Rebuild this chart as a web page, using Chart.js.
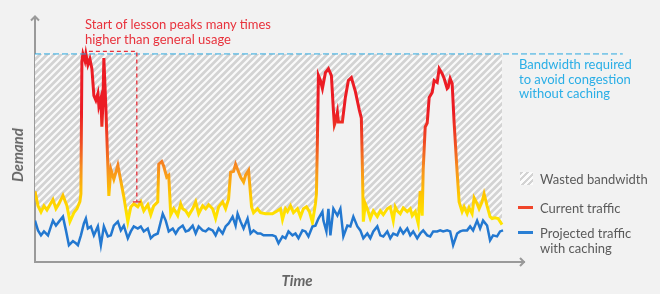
<!DOCTYPE html>
<html>
<head>
<meta charset="utf-8">
<script src="https://cdn.jsdelivr.net/npm/chart.js@4.4.1/dist/chart.umd.min.js"></script>
<style>
  body { margin: 0; background: #f2f2f2; font-family: "Lato", "Noto Sans", sans-serif; }
  #wrap { position: relative; width: 660px; height: 294px; overflow: hidden; }
  canvas { position: absolute; left: 0; top: 0; }
  .txt { position: absolute; white-space: nowrap; font-size: 13px; }
  .red { color: #e8323c; line-height: 15px; }
  .blue { color: #2aaee6; line-height: 14.7px; }
  .leg { color: #5a5a5a; line-height: 14.5px; }
  .axis { color: #666; font-weight: bold; font-style: italic; font-size: 15px; }
  .swatch { position: absolute; width: 13px; height: 13px;
    background: repeating-linear-gradient(135deg, #d3d3d3 0 2.4px, #fbfbfb 2.4px 4.6px); }
  .dash { position: absolute; width: 15px; height: 2.5px; }
</style>
</head>
<body>
<div id="wrap">
  <canvas id="demandChart" width="660" height="294"></canvas>
  <div class="txt red" style="left:85px; top:17px;">Start of lesson peaks many times<br>higher than general usage</div>
  <div class="txt blue" style="left:519px; top:57px;">Bandwidth required<br>to avoid congestion<br>without caching</div>
  <div class="swatch" style="left:520px; top:172px;"></div>
  <div class="txt leg" style="left:540px; top:172px;">Wasted bandwidth</div>
  <div class="dash" style="left:518px; top:206px; background:#f0452a;"></div>
  <div class="txt leg" style="left:540px; top:201px;">Current traffic</div>
  <div class="dash" style="left:518px; top:231px; background:#2a7fd4;"></div>
  <div class="txt leg" style="left:540px; top:226px;">Projected traffic<br>with caching</div>
  <div class="txt axis" style="left:17px; top:155px; transform: translate(-50%, -50%) rotate(-90deg);">Demand</div>
  <div class="txt axis" style="left:297px; top:280px; transform: translate(-50%, -50%);">Time</div>
</div>
<script>
// demand as % of the bandwidth needed without caching, time in arbitrary units
const bandwidthRequired = 100;

const currentTime = [0, 3, 6, 9, 12, 15, 18, 21, 24, 28, 32, 35, 39, 42, 45, 46, 47, 48, 50, 51, 53, 55, 57, 59,
  61, 63, 64, 66, 67, 68, 69, 71, 73, 74, 76, 79, 83, 86, 89, 93, 96, 99, 103, 106, 109, 113, 116, 119,
  123, 124, 127, 129, 132, 134, 136, 139, 143, 146, 148, 151, 154, 158, 161, 164, 168, 171, 174, 178,
  181, 184, 188, 191, 194, 196, 199, 201, 203, 206, 209, 211, 214, 217, 219, 223, 226, 231, 238, 243,
  246, 248, 251, 253, 256, 259, 263, 266, 269, 272, 275, 278, 281, 282, 283, 284, 286, 288, 291, 294,
  297, 299, 300, 301, 303, 304, 308, 311, 314, 317, 321, 325, 327, 328, 329, 331, 333, 336, 339, 343,
  346, 349, 353, 356, 359, 361, 363, 366, 369, 373, 376, 378, 381, 384, 386, 388, 389, 391, 393, 395,
  398, 400, 403, 405, 408, 410, 413, 414, 416, 418, 420, 423, 425, 428, 430, 433, 435, 438, 440, 443,
  445, 448, 450, 453, 456, 458, 461, 464, 468];
const currentTraffic = [34, 27, 24, 27, 25, 27.5, 30, 25.6, 28, 32, 27, 19.4, 23.7, 25.6, 29, 32.7, 96.7, 100, 96.7, 100, 94.8, 97.6, 92.9, 80,
  77.7, 81, 75, 78.7, 65, 75.4, 98, 74.4, 46, 31.8, 44.5, 39.8, 46.4, 38.9, 31.3, 19.4, 26.5, 28, 26.5, 28.9, 24.6, 27.5, 22.7, 27,
  28.9, 47, 48.3, 46, 40.8, 41.7, 22.7, 25.6, 22.3, 28, 25.6, 24.6, 22.3, 25.6, 28.9, 23.2, 27, 25.6, 27.5, 25.6,
  20.9, 26.5, 28.9, 25.6, 30.3, 43.1, 43.6, 47, 44.5, 40.8, 38.4, 41.7, 44, 26.5, 23.7, 25.6, 23.7, 23.2, 23.2, 24.6,
  25.6, 20.4, 25.6, 24.2, 27, 23.7, 25.6, 21.8, 25.6, 26.5, 24.2, 19, 28, 32.7, 58.8, 89.6, 87.2, 83.4, 91, 92.9,
  89.6, 73, 65.9, 67.3, 72, 67.3, 67.3, 79.1, 87.2, 88.6, 82, 73, 69.2, 46.9, 19.4, 28, 25.6, 20.9, 24.6, 21.8,
  24.6, 22.7, 25.6, 26.5, 19.9, 26.5, 24.6, 23.2, 26, 24.2, 25.6, 22.3, 24.2, 18.5, 34.1, 22.3, 44.5, 64.9, 66.8, 79.1,
  81.5, 87.2, 86.3, 92.9, 90.5, 88.2, 83.4, 83.9, 88.2, 85.8, 66.8, 43.1, 28.9, 24.2, 26.5, 23.2, 26, 23.2, 30.8, 28,
  25.6, 28.9, 32.7, 27, 21.8, 20.9, 21.3, 20.9, 18];

const projectedTime = [0, 3, 6, 9, 13, 16, 18, 21, 24, 28, 31, 34, 38, 41, 43, 46, 49, 51, 53, 56, 59, 63, 66, 69,
  73, 76, 79, 83, 86, 89, 93, 96, 99, 103, 106, 109, 113, 116, 119, 123, 128, 131, 134, 138, 141, 144, 148,
  151, 154, 158, 161, 164, 168, 171, 174, 178, 181, 184, 188, 191, 194, 198, 201, 203, 206, 209, 213, 216,
  219, 223, 226, 229, 233, 238, 241, 244, 248, 251, 254, 258, 261, 264, 268, 271, 274, 278, 281, 284, 288,
  289, 292, 294, 296, 299, 303, 306, 309, 313, 316, 319, 323, 326, 329, 333, 336, 339, 343, 346, 349, 353,
  356, 359, 363, 366, 369, 373, 376, 379, 383, 386, 389, 393, 396, 399, 403, 406, 409, 413, 416, 419, 423,
  426, 429, 433, 436, 439, 443, 446, 449, 453, 456, 459, 463, 466, 469];
const projectedTraffic = [19.9, 15.2, 12.8, 14.7, 12.8, 17.1, 19.9, 17.5, 19.4, 21.8, 15.2, 8.1, 10, 9, 8.1, 12.8, 18.5, 20.9, 16.1, 17.1, 12.8, 17.1, 8.1, 17.1,
  12.3, 12.8, 17.5, 19.4, 15.2, 17.5, 11.4, 14.7, 17.1, 16.1, 17.1, 14.7, 16.1, 11.4, 12.8, 13.7, 23.2, 19.9, 14.7, 16.1, 13.7, 16.1, 17.5,
  14.7, 15.2, 17.5, 13.7, 17.1, 15.2, 14.7, 16.1, 15.2, 12.8, 16.1, 13.7, 17.1, 18.5, 21.8, 17.5, 23.2, 19.4, 16.1, 20.9, 13.7,
  15.2, 13.7, 13.7, 12.8, 12.8, 12.8, 12.3, 9, 12.3, 11.4, 14.7, 12.8, 13.7, 11.4, 15.2, 14.7, 12.3, 17.1, 17.5, 20.9, 24.2,
  19.9, 14.7, 25.6, 12.8, 25.6, 22.3, 25.6, 12.3, 17.5, 17.1, 21.8, 17.1, 15.2, 11.4, 13.7, 11.4, 14.7, 17.1, 12.8, 12.3, 14.7,
  11.4, 13.7, 12.8, 16.1, 13.7, 16.1, 12.8, 14.7, 11.4, 13.7, 15.2, 12.8, 12.3, 14.7, 14.7, 15.2, 14.7, 15.2, 14.7, 8.1, 13.7,
  14.7, 15.2, 15.2, 17.1, 15.2, 19.9, 16.1, 19.9, 17.5, 10.4, 12.8, 12.3, 14.7, 15.2];

// where the red "peak" callout points to
const peakTime = 54, calloutTime = 102, baseUsage = 28.9;

function makeHatch() {
  const s = 7;
  const c = document.createElement('canvas');
  c.width = s; c.height = s;
  const x = c.getContext('2d');
  x.fillStyle = '#d3d3d3';
  x.fillRect(0, 0, s, s);
  x.strokeStyle = '#fafafa';
  x.lineWidth = 2.2;
  x.beginPath();
  x.moveTo(-1, s + 1); x.lineTo(s + 1, -1);
  x.moveTo(-1, 1); x.lineTo(1, -1);
  x.moveTo(s - 1, s + 1); x.lineTo(s + 1, s - 1);
  x.stroke();
  return document.getElementById('demandChart').getContext('2d').createPattern(c, 'repeat');
}

function trafficGradient(context) {
  const chart = context.chart;
  if (!chart.chartArea) return '#ed1c24';
  const y = chart.scales.y;
  const g = chart.ctx.createLinearGradient(0, y.getPixelForValue(22), 0, y.getPixelForValue(72));
  g.addColorStop(0, '#ffe400');
  g.addColorStop(0.2, '#ffc800');
  g.addColorStop(0.45, '#f7911e');
  g.addColorStop(0.7, '#f04e23');
  g.addColorStop(1, '#ec1c24');
  return g;
}

const extras = {
  id: 'extras',
  afterDraw(chart) {
    const { ctx, chartArea: a, scales: { x, y } } = chart;
    ctx.save();
    // axis arrowheads
    ctx.strokeStyle = '#9a9a9a';
    ctx.lineWidth = 2;
    ctx.beginPath();
    ctx.moveTo(a.left - 4, a.top + 4); ctx.lineTo(a.left, a.top); ctx.lineTo(a.left + 4, a.top + 4);
    ctx.moveTo(a.right - 4, a.bottom - 4); ctx.lineTo(a.right, a.bottom); ctx.lineTo(a.right - 4, a.bottom + 4);
    ctx.stroke();
    // red callout bracket
    const x0 = x.getPixelForValue(peakTime), x1 = x.getPixelForValue(calloutTime);
    const yTop = y.getPixelForValue(bandwidthRequired) - 2.5, yBot = y.getPixelForValue(baseUsage);
    ctx.strokeStyle = '#e8323c';
    ctx.lineWidth = 1.3;
    ctx.setLineDash([4, 3]);
    ctx.beginPath();
    ctx.moveTo(x0, yTop); ctx.lineTo(x1, yTop); ctx.lineTo(x1, yBot);
    ctx.stroke();
    ctx.setLineDash([]);
    ctx.beginPath();
    ctx.moveTo(x1 - 4, yBot); ctx.lineTo(x1 + 4, yBot);
    ctx.stroke();
    ctx.restore();
  }
};

new Chart(document.getElementById('demandChart'), {
  type: 'line',
  data: {
    datasets: [
      {
        label: 'Bandwidth required',
        data: [{ x: 0, y: bandwidthRequired }, { x: 589, y: bandwidthRequired }],
        borderColor: '#29a8e0',
        borderWidth: 1,
        borderDash: [6, 3],
        pointRadius: 0,
        clip: false
      },
      {
        label: 'Projected traffic with caching',
        data: projectedTime.map((t, i) => ({ x: t, y: projectedTraffic[i] })),
        borderColor: '#2378d0',
        borderWidth: 2.5,
        pointRadius: 0,
        tension: 0
      },
      {
        label: 'Current traffic',
        data: currentTime.map((t, i) => ({ x: t, y: currentTraffic[i] })),
        borderColor: trafficGradient,
        backgroundColor: makeHatch(),
        fill: { target: { value: bandwidthRequired } },
        borderWidth: 3,
        pointRadius: 0,
        tension: 0
      }
    ]
  },
  options: {
    responsive: false,
    animation: false,
    events: [],
    layout: { padding: { left: 27, top: 16.5, right: 136, bottom: 24 } },
    plugins: { legend: { display: false }, tooltip: { enabled: false } },
    scales: {
      x: {
        type: 'linear', min: 0, max: 490,
        grid: { display: false },
        ticks: { display: false },
        border: { color: '#9a9a9a', width: 2 }
      },
      y: {
        min: 0, max: 118,
        grid: { display: false },
        ticks: { display: false },
        border: { color: '#9a9a9a', width: 2 }
      }
    }
  },
  plugins: [extras]
});
</script>
</body>
</html>
